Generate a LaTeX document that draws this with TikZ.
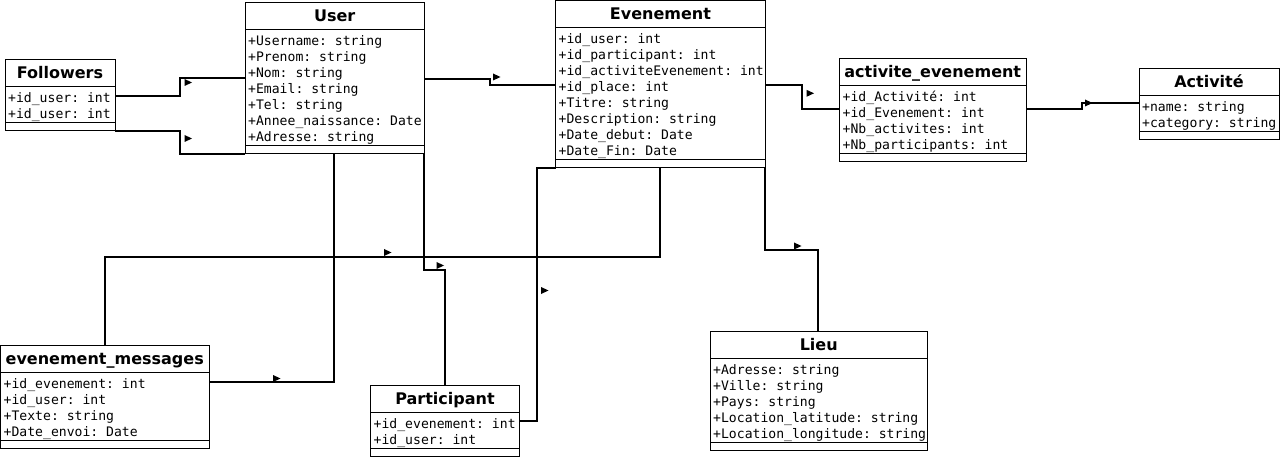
\documentclass[tikz,border=0pt]{standalone}
\usepackage{fontspec}
\setmainfont{DejaVu Sans}
\setmonofont{DejaVu Sans Mono}
\usepackage{tikz}

% class box: name, left, top, width, rows, title, attributes
\newcommand{\umlclass}[7]{%
  \pgfmathsetmacro\classh{27.5+16*#5+12}
  \node[classbox, minimum width=#4, minimum height=\classh, anchor=north west] (#1) at (#2,#3) {};
  \node[classtitle] (#1-title) at (#2+#4/2,#3+19) {#6};
  \draw[classline] (#2,#3+27.5) -- ++(#4,0);
  \draw[classline] (#2,#3+\classh-8) -- ++(#4,0);
  \foreach \attr [count=\i] in {#7}
    \node[classattr] (#1-\i) at (#2+3,#3+43+16*\i-16) {\attr};
}

% small head on a connector, tip at #1
\newcommand{\tipmark}[1]{\fill #1 -- ++(-7.5,-3.5) -- ++(0,7) -- cycle;}

\begin{document}
\begin{tikzpicture}[x=1pt, y=-1pt,
    classbox/.style={draw, line width=1pt, inner sep=0pt, outer sep=0pt},
    classtitle/.style={anchor=base, inner sep=0pt, font=\fontsize{16}{18}\selectfont\bfseries},
    classattr/.style={anchor=base west, inner sep=0pt, font=\fontsize{13.1}{16}\selectfont\ttfamily},
    classline/.style={line width=1pt},
    link/.style={line width=2pt}]

    \useasboundingbox (0,0) rectangle (1280,457);

    % Classes
    \umlclass{followers}{5}{59.5}{110}{2}{Followers}{+id\_user: int, +id\_user: int}
    \umlclass{user}{245}{2.5}{179.5}{7}{User}{+Username: string, +Prenom: string, +Nom: string, +Email: string, +Tel: string, +Annee\_naissance: Date, +Adresse: string}
    \umlclass{evenement}{555.5}{0.5}{210}{8}{Evenement}{+id\_user: int, +id\_participant: int, +id\_activiteEvenement: int, +id\_place: int, +Titre: string, +Description: string, +Date\_debut: Date, +Date\_Fin: Date}
    \umlclass{actevent}{839.5}{58.5}{186.5}{4}{activite\_evenement}{+id\_Activité: int, +id\_Evenement: int, +Nb\_activites: int, +Nb\_participants: int}
    \umlclass{activite}{1139}{68.5}{140}{2}{Activité}{+name: string, +category: string}
    \umlclass{messages}{0.5}{345}{208.5}{4}{evenement\_messages}{+id\_evenement: int, +id\_user: int, +Texte: string, +Date\_envoi: Date}
    \umlclass{participant}{370.5}{385}{149}{2}{Participant}{+id\_evenement: int, +id\_user: int}
    \umlclass{lieu}{710}{331}{217.5}{5}{Lieu}{+Adresse: string, +Ville: string, +Pays: string, +Location\_latitude: string, +Location\_longitude: string}

    % Connectors
    \draw[link] (followers.east |- 0,96) -- (180,96) -- (180,78) -- (user.west |- 0,78);
    \draw[link] (followers.south east) -- (180,131) -- (180,154) -- (user.south west);
    \draw[link] (user.east |- 0,79) -- (490,79) -- (490,85) -- (evenement.west |- 0,85);
    \draw[link] (evenement.east |- 0,85) -- (802,85) -- (802,109) -- (actevent.west |- 0,109);
    \draw[link] (actevent.east |- 0,109) -- (1082,109) -- (1082,103) -- (activite.west |- 0,103);
    \draw[link] (user.south -| 334,0) -- (334,382) -- (messages.east |- 0,382);
    \draw[link] (evenement.south -| 660,0) -- (660,257) -- (105,257) -- (messages.north -| 105,0);
    \draw[link] ([xshift=-0.5pt]user.south east) -- (424,270) -- (445,270) -- (participant.north -| 445,0);
    \draw[link] (participant.east |- 0,421) -- (537,421) -- (537,168) -- (evenement.south west);
    \draw[link] ([xshift=-0.5pt]evenement.south east) -- (765,250) -- (818,250) -- (lieu.north -| 818,0);

    % Heads
    \tipmark{(192,82.5)}
    \tipmark{(192,138.5)}
    \tipmark{(500.5,77)}
    \tipmark{(814,93.3)}
    \tipmark{(1092.5,103)}
    \tipmark{(280.5,378.5)}
    \tipmark{(391.5,252.5)}
    \tipmark{(444,265.5)}
    \tipmark{(548.5,290.5)}
    \tipmark{(801.5,246)}

\end{tikzpicture}
\end{document}
